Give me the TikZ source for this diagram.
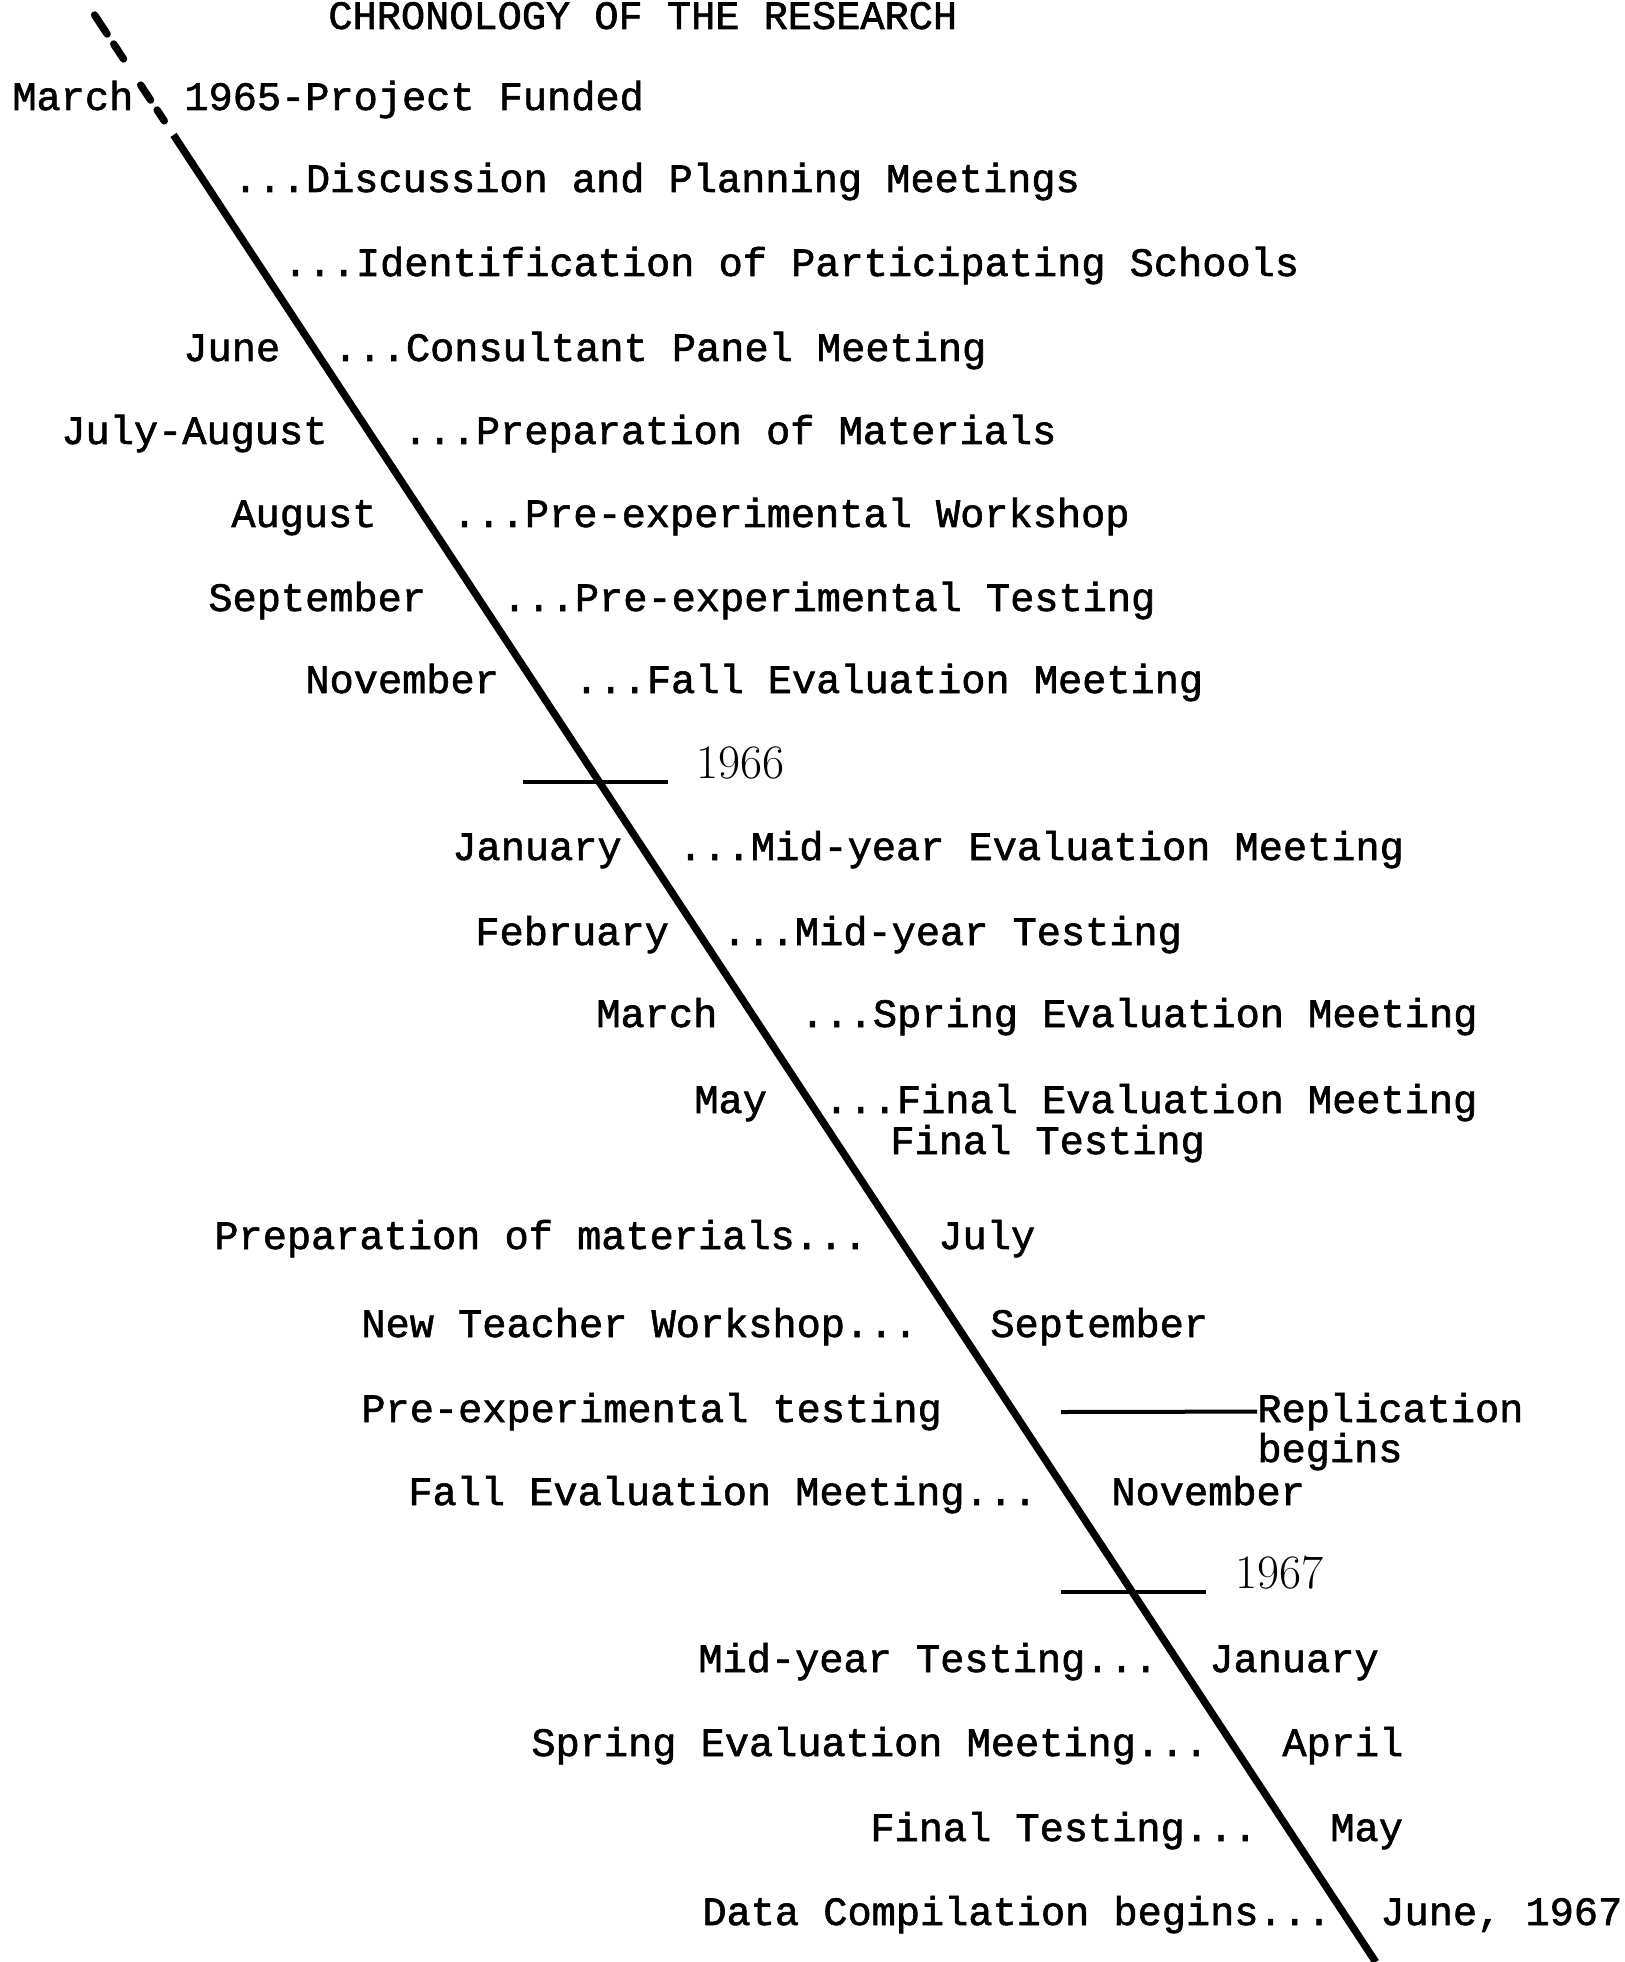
\documentclass[tikz,border=0pt]{standalone}
\usepackage{fontspec}
\newfontfamily\twfont[FakeBold=1.5]{Liberation Mono}
\usetikzlibrary{calc}
\begin{document}
\begin{tikzpicture}[x=0.5pt,y=-0.5pt,
  lbl/.style={anchor=base west,inner sep=0pt,font=\twfont\fontsize{20.15}{24}\selectfont},
  yr/.style={anchor=base west,inner sep=0pt,font=\rmfamily\fontsize{24}{28}\selectfont},
  timeline/.style={line width=3.7pt},
  dashpiece/.style={line width=3.7pt,line cap=round},
  tick/.style={line width=2pt}]
\useasboundingbox (0,0) rectangle (1624,1962);
% texts
\node[lbl] (title) at (328,29) {CHRONOLOGY OF THE RESEARCH};
\node[lbl] (m1) at (12,110) {March};
\node[lbl] (e1) at (184,110) {1965-Project Funded};
\node[lbl] (e2) at (233,192) {...Discussion and Planning Meetings};
\node[lbl] (e3) at (283,276) {...Identification of Participating Schools};
\node[lbl] (m4) at (183,361) {June};
\node[lbl] (e4) at (333,361) {...Consultant Panel Meeting};
\node[lbl] (m5) at (61,444) {July-August};
\node[lbl] (e5) at (403,444) {...Preparation of Materials};
\node[lbl] (m6) at (231,527) {August};
\node[lbl] (e6) at (452,527) {...Pre-experimental Workshop};
\node[lbl] (m7) at (208,611) {September};
\node[lbl] (e7) at (502,611) {...Pre-experimental Testing};
\node[lbl] (m8) at (305,693) {November};
\node[lbl] (e8) at (574,693) {...Fall Evaluation Meeting};
\node[yr] (y66) at (696,778) {1966};
\node[lbl] (m9) at (452,860) {January};
\node[lbl] (e9) at (678,860) {...Mid-year Evaluation Meeting};
\node[lbl] (m10) at (475,945) {February};
\node[lbl] (e10) at (722,945) {...Mid-year Testing};
\node[lbl] (m11) at (596,1027) {March};
\node[lbl] (e11) at (800,1027) {...Spring Evaluation Meeting};
\node[lbl] (m12) at (694,1113) {May};
\node[lbl] (e12) at (824,1113) {...Final Evaluation Meeting};
\node[lbl] (e12b) at (890,1154) {Final Testing};
\node[lbl] (e13) at (214,1249) {Preparation of materials...};
\node[lbl] (m13) at (938,1249) {July};
\node[lbl] (e14) at (361,1337) {New Teacher Workshop...};
\node[lbl] (m14) at (990,1337) {September};
\node[lbl] (e15) at (361,1422) {Pre-experimental testing};
\node[lbl] (rep) at (1257,1422) {Replication};
\node[lbl] (rep2) at (1257,1462) {begins};
\node[lbl] (e16) at (408,1505) {Fall Evaluation Meeting...};
\node[lbl] (m16) at (1111,1505) {November};
\node[yr] (y67) at (1235,1588) {1967};
\node[lbl] (e17) at (698,1672) {Mid-year Testing...};
\node[lbl] (m17) at (1209,1672) {January};
\node[lbl] (e18) at (531,1756) {Spring Evaluation Meeting...};
\node[lbl] (m18) at (1282,1756) {April};
\node[lbl] (e19) at (870,1841) {Final Testing...};
\node[lbl] (m19) at (1330,1841) {May};
\node[lbl] (e20) at (702,1925) {Data Compilation begins...};
\node[lbl] (m20) at (1380,1925) {June, 1967};
% time line
\coordinate (lt) at (94.6,15);
\coordinate (lb) at (1375.7,1962);
\draw[dashpiece] ($(lt)!0.000!(lb)$) -- ($(lt)!0.0098!(lb)$);
\draw[dashpiece] ($(lt)!0.0149!(lb)$) -- ($(lt)!0.0226!(lb)$);
\draw[dashpiece] ($(lt)!0.0360!(lb)$) -- ($(lt)!0.0437!(lb)$);
\draw[dashpiece] ($(lt)!0.0488!(lb)$) -- ($(lt)!0.0544!(lb)$);
\draw[timeline] ($(lt)!0.0616!(lb)$) -- (lb);
% year ticks
\coordinate (t66a) at (523,782);
\coordinate (t66b) at (668,782);
\draw[tick] (t66a) -- (t66b);
\coordinate (t67a) at (1061,1592);
\coordinate (t67b) at (1206,1592);
\draw[tick] (t67a) -- (t67b);
% replication
\coordinate (repstart) at (1061,1412);
\draw[tick] (repstart) -- (rep.west);
\end{tikzpicture}
\end{document}
